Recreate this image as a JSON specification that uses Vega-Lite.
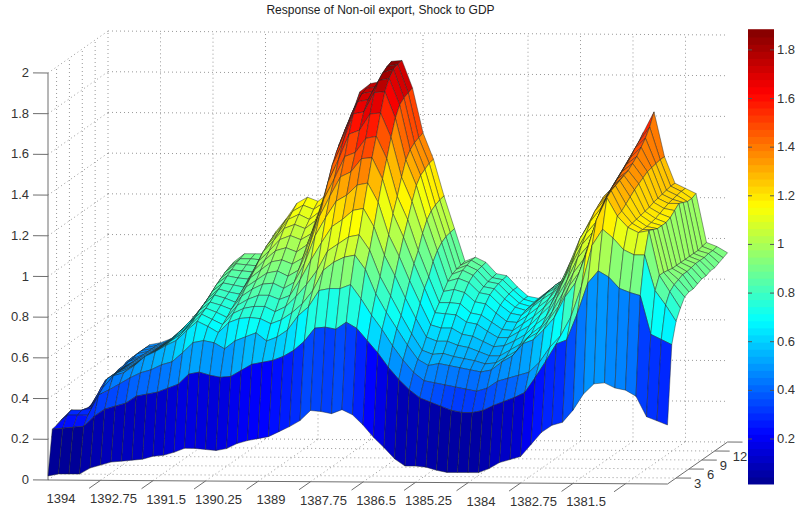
{"$schema":"https://vega.github.io/schema/vega-lite/v6.json","autosize":{"type":"none"},"padding":0,"width":795,"height":508,"background":"white",
"title":{"text":"Response of Non-oil export, Shock to GDP","anchor":"middle","dx":-17,"offset":-17,"fontSize":12,"fontWeight":"normal","font":"Liberation Sans","color":"#222222"},
"config":{"view":{"stroke":null}},
"datasets":{
"surface":[
{"t":0,"h":15,"z":0.28},{"t":0,"h":14,"z":0.28},{"t":0,"h":13,"z":0.25},{"t":0,"h":12,"z":0.22},{"t":0,"h":11,"z":0.2},{"t":0,"h":10,"z":0.2},{"t":0,"h":9,"z":0.21},{"t":0,"h":8,"z":0.22},{"t":0,"h":7,"z":0.23},{"t":0,"h":6,"z":0.25},{"t":0,"h":5,"z":0.25},{"t":0,"h":4,"z":0.25},{"t":0,"h":3,"z":0.24},{"t":0,"h":2,"z":0.235},{"t":0,"h":1,"z":0.02},
{"t":1,"h":15,"z":0.315},{"t":1,"h":14,"z":0.32},{"t":1,"h":13,"z":0.325},{"t":1,"h":12,"z":0.33},{"t":1,"h":11,"z":0.31},{"t":1,"h":10,"z":0.285},{"t":1,"h":9,"z":0.26},{"t":1,"h":8,"z":0.245},{"t":1,"h":7,"z":0.26},{"t":1,"h":6,"z":0.265},{"t":1,"h":5,"z":0.28},{"t":1,"h":4,"z":0.3},{"t":1,"h":3,"z":0.29},{"t":1,"h":2,"z":0.24},{"t":1,"h":1,"z":0.03},
{"t":2,"h":15,"z":0.36},{"t":2,"h":14,"z":0.35},{"t":2,"h":13,"z":0.35},{"t":2,"h":12,"z":0.34},{"t":2,"h":11,"z":0.34},{"t":2,"h":10,"z":0.34},{"t":2,"h":9,"z":0.33},{"t":2,"h":8,"z":0.31},{"t":2,"h":7,"z":0.28},{"t":2,"h":6,"z":0.27},{"t":2,"h":5,"z":0.28},{"t":2,"h":4,"z":0.3},{"t":2,"h":3,"z":0.29},{"t":2,"h":2,"z":0.245},{"t":2,"h":1,"z":0.03},
{"t":3,"h":15,"z":0.42},{"t":3,"h":14,"z":0.42},{"t":3,"h":13,"z":0.42},{"t":3,"h":12,"z":0.42},{"t":3,"h":11,"z":0.41},{"t":3,"h":10,"z":0.41},{"t":3,"h":9,"z":0.4},{"t":3,"h":8,"z":0.39},{"t":3,"h":7,"z":0.38},{"t":3,"h":6,"z":0.35},{"t":3,"h":5,"z":0.31},{"t":3,"h":4,"z":0.31},{"t":3,"h":3,"z":0.29},{"t":3,"h":2,"z":0.25},{"t":3,"h":1,"z":0.03},
{"t":4,"h":15,"z":0.46},{"t":4,"h":14,"z":0.46},{"t":4,"h":13,"z":0.46},{"t":4,"h":12,"z":0.46},{"t":4,"h":11,"z":0.45},{"t":4,"h":10,"z":0.45},{"t":4,"h":9,"z":0.44},{"t":4,"h":8,"z":0.44},{"t":4,"h":7,"z":0.44},{"t":4,"h":6,"z":0.44},{"t":4,"h":5,"z":0.44},{"t":4,"h":4,"z":0.41},{"t":4,"h":3,"z":0.39},{"t":4,"h":2,"z":0.3},{"t":4,"h":1,"z":0.06},
{"t":5,"h":15,"z":0.47},{"t":5,"h":14,"z":0.47},{"t":5,"h":13,"z":0.47},{"t":5,"h":12,"z":0.47},{"t":5,"h":11,"z":0.47},{"t":5,"h":10,"z":0.47},{"t":5,"h":9,"z":0.47},{"t":5,"h":8,"z":0.47},{"t":5,"h":7,"z":0.47},{"t":5,"h":6,"z":0.47},{"t":5,"h":5,"z":0.47},{"t":5,"h":4,"z":0.47},{"t":5,"h":3,"z":0.415},{"t":5,"h":2,"z":0.335},{"t":5,"h":1,"z":0.075},
{"t":6,"h":15,"z":0.49},{"t":6,"h":14,"z":0.49},{"t":6,"h":13,"z":0.49},{"t":6,"h":12,"z":0.49},{"t":6,"h":11,"z":0.49},{"t":6,"h":10,"z":0.49},{"t":6,"h":9,"z":0.49},{"t":6,"h":8,"z":0.49},{"t":6,"h":7,"z":0.49},{"t":6,"h":6,"z":0.49},{"t":6,"h":5,"z":0.49},{"t":6,"h":4,"z":0.485},{"t":6,"h":3,"z":0.445},{"t":6,"h":2,"z":0.35},{"t":6,"h":1,"z":0.09},
{"t":7,"h":15,"z":0.52},{"t":7,"h":14,"z":0.52},{"t":7,"h":13,"z":0.52},{"t":7,"h":12,"z":0.52},{"t":7,"h":11,"z":0.52},{"t":7,"h":10,"z":0.52},{"t":7,"h":9,"z":0.52},{"t":7,"h":8,"z":0.52},{"t":7,"h":7,"z":0.52},{"t":7,"h":6,"z":0.52},{"t":7,"h":5,"z":0.52},{"t":7,"h":4,"z":0.52},{"t":7,"h":3,"z":0.475},{"t":7,"h":2,"z":0.365},{"t":7,"h":1,"z":0.095},
{"t":8,"h":15,"z":0.565},{"t":8,"h":14,"z":0.56},{"t":8,"h":13,"z":0.56},{"t":8,"h":12,"z":0.55},{"t":8,"h":11,"z":0.55},{"t":8,"h":10,"z":0.55},{"t":8,"h":9,"z":0.55},{"t":8,"h":8,"z":0.55},{"t":8,"h":7,"z":0.55},{"t":8,"h":6,"z":0.55},{"t":8,"h":5,"z":0.55},{"t":8,"h":4,"z":0.565},{"t":8,"h":3,"z":0.5},{"t":8,"h":2,"z":0.4},{"t":8,"h":1,"z":0.1},
{"t":9,"h":15,"z":0.62},{"t":9,"h":14,"z":0.62},{"t":9,"h":13,"z":0.61},{"t":9,"h":12,"z":0.61},{"t":9,"h":11,"z":0.61},{"t":9,"h":10,"z":0.6},{"t":9,"h":9,"z":0.6},{"t":9,"h":8,"z":0.6},{"t":9,"h":7,"z":0.59},{"t":9,"h":6,"z":0.59},{"t":9,"h":5,"z":0.59},{"t":9,"h":4,"z":0.59},{"t":9,"h":3,"z":0.515},{"t":9,"h":2,"z":0.41},{"t":9,"h":1,"z":0.105},
{"t":10,"h":15,"z":0.68},{"t":10,"h":14,"z":0.675},{"t":10,"h":13,"z":0.67},{"t":10,"h":12,"z":0.67},{"t":10,"h":11,"z":0.66},{"t":10,"h":10,"z":0.655},{"t":10,"h":9,"z":0.65},{"t":10,"h":8,"z":0.645},{"t":10,"h":7,"z":0.64},{"t":10,"h":6,"z":0.63},{"t":10,"h":5,"z":0.625},{"t":10,"h":4,"z":0.62},{"t":10,"h":3,"z":0.54},{"t":10,"h":2,"z":0.42},{"t":10,"h":1,"z":0.12},
{"t":11,"h":15,"z":0.77},{"t":11,"h":14,"z":0.76},{"t":11,"h":13,"z":0.755},{"t":11,"h":12,"z":0.745},{"t":11,"h":11,"z":0.735},{"t":11,"h":10,"z":0.72},{"t":11,"h":9,"z":0.71},{"t":11,"h":8,"z":0.7},{"t":11,"h":7,"z":0.68},{"t":11,"h":6,"z":0.67},{"t":11,"h":5,"z":0.66},{"t":11,"h":4,"z":0.645},{"t":11,"h":3,"z":0.555},{"t":11,"h":2,"z":0.44},{"t":11,"h":1,"z":0.125},
{"t":12,"h":15,"z":0.87},{"t":12,"h":14,"z":0.86},{"t":12,"h":13,"z":0.85},{"t":12,"h":12,"z":0.835},{"t":12,"h":11,"z":0.82},{"t":12,"h":10,"z":0.8},{"t":12,"h":9,"z":0.78},{"t":12,"h":8,"z":0.765},{"t":12,"h":7,"z":0.75},{"t":12,"h":6,"z":0.73},{"t":12,"h":5,"z":0.71},{"t":12,"h":4,"z":0.695},{"t":12,"h":3,"z":0.6},{"t":12,"h":2,"z":0.46},{"t":12,"h":1,"z":0.14},
{"t":13,"h":15,"z":0.91},{"t":13,"h":14,"z":0.9},{"t":13,"h":13,"z":0.89},{"t":13,"h":12,"z":0.875},{"t":13,"h":11,"z":0.86},{"t":13,"h":10,"z":0.84},{"t":13,"h":9,"z":0.825},{"t":13,"h":8,"z":0.81},{"t":13,"h":7,"z":0.79},{"t":13,"h":6,"z":0.775},{"t":13,"h":5,"z":0.76},{"t":13,"h":4,"z":0.74},{"t":13,"h":3,"z":0.65},{"t":13,"h":2,"z":0.51},{"t":13,"h":1,"z":0.16},
{"t":14,"h":15,"z":0.91},{"t":14,"h":14,"z":0.9},{"t":14,"h":13,"z":0.885},{"t":14,"h":12,"z":0.87},{"t":14,"h":11,"z":0.85},{"t":14,"h":10,"z":0.83},{"t":14,"h":9,"z":0.81},{"t":14,"h":8,"z":0.795},{"t":14,"h":7,"z":0.775},{"t":14,"h":6,"z":0.755},{"t":14,"h":5,"z":0.735},{"t":14,"h":4,"z":0.715},{"t":14,"h":3,"z":0.66},{"t":14,"h":2,"z":0.52},{"t":14,"h":1,"z":0.16},
{"t":15,"h":15,"z":0.91},{"t":15,"h":14,"z":0.895},{"t":15,"h":13,"z":0.88},{"t":15,"h":12,"z":0.865},{"t":15,"h":11,"z":0.845},{"t":15,"h":10,"z":0.82},{"t":15,"h":9,"z":0.8},{"t":15,"h":8,"z":0.775},{"t":15,"h":7,"z":0.755},{"t":15,"h":6,"z":0.73},{"t":15,"h":5,"z":0.71},{"t":15,"h":4,"z":0.685},{"t":15,"h":3,"z":0.65},{"t":15,"h":2,"z":0.505},{"t":15,"h":1,"z":0.155},
{"t":16,"h":15,"z":1.02},{"t":16,"h":14,"z":1.0},{"t":16,"h":13,"z":0.985},{"t":16,"h":12,"z":0.965},{"t":16,"h":11,"z":0.935},{"t":16,"h":10,"z":0.905},{"t":16,"h":9,"z":0.88},{"t":16,"h":8,"z":0.85},{"t":16,"h":7,"z":0.82},{"t":16,"h":6,"z":0.79},{"t":16,"h":5,"z":0.765},{"t":16,"h":4,"z":0.735},{"t":16,"h":3,"z":0.62},{"t":16,"h":2,"z":0.495},{"t":16,"h":1,"z":0.15},
{"t":17,"h":15,"z":1.085},{"t":17,"h":14,"z":1.065},{"t":17,"h":13,"z":1.04},{"t":17,"h":12,"z":1.02},{"t":17,"h":11,"z":0.985},{"t":17,"h":10,"z":0.955},{"t":17,"h":9,"z":0.92},{"t":17,"h":8,"z":0.885},{"t":17,"h":7,"z":0.855},{"t":17,"h":6,"z":0.82},{"t":17,"h":5,"z":0.79},{"t":17,"h":4,"z":0.755},{"t":17,"h":3,"z":0.66},{"t":17,"h":2,"z":0.5},{"t":17,"h":1,"z":0.16},
{"t":18,"h":15,"z":1.16},{"t":18,"h":14,"z":1.135},{"t":18,"h":13,"z":1.11},{"t":18,"h":12,"z":1.08},{"t":18,"h":11,"z":1.04},{"t":18,"h":10,"z":1.0},{"t":18,"h":9,"z":0.96},{"t":18,"h":8,"z":0.92},{"t":18,"h":7,"z":0.88},{"t":18,"h":6,"z":0.84},{"t":18,"h":5,"z":0.8},{"t":18,"h":4,"z":0.76},{"t":18,"h":3,"z":0.68},{"t":18,"h":2,"z":0.53},{"t":18,"h":1,"z":0.185},
{"t":19,"h":15,"z":1.19},{"t":19,"h":14,"z":1.165},{"t":19,"h":13,"z":1.135},{"t":19,"h":12,"z":1.1},{"t":19,"h":11,"z":1.06},{"t":19,"h":10,"z":1.015},{"t":19,"h":9,"z":0.97},{"t":19,"h":8,"z":0.93},{"t":19,"h":7,"z":0.885},{"t":19,"h":6,"z":0.84},{"t":19,"h":5,"z":0.8},{"t":19,"h":4,"z":0.755},{"t":19,"h":3,"z":0.7},{"t":19,"h":2,"z":0.56},{"t":19,"h":1,"z":0.2},
{"t":20,"h":15,"z":1.17},{"t":20,"h":14,"z":1.145},{"t":20,"h":13,"z":1.11},{"t":20,"h":12,"z":1.08},{"t":20,"h":11,"z":1.04},{"t":20,"h":10,"z":0.995},{"t":20,"h":9,"z":0.95},{"t":20,"h":8,"z":0.905},{"t":20,"h":7,"z":0.86},{"t":20,"h":6,"z":0.82},{"t":20,"h":5,"z":0.775},{"t":20,"h":4,"z":0.73},{"t":20,"h":3,"z":0.66},{"t":20,"h":2,"z":0.57},{"t":20,"h":1,"z":0.21},
{"t":21,"h":15,"z":1.21},{"t":21,"h":14,"z":1.18},{"t":21,"h":13,"z":1.15},{"t":21,"h":12,"z":1.12},{"t":21,"h":11,"z":1.07},{"t":21,"h":10,"z":1.03},{"t":21,"h":9,"z":0.98},{"t":21,"h":8,"z":0.935},{"t":21,"h":7,"z":0.89},{"t":21,"h":6,"z":0.84},{"t":21,"h":5,"z":0.8},{"t":21,"h":4,"z":0.75},{"t":21,"h":3,"z":0.68},{"t":21,"h":2,"z":0.58},{"t":21,"h":1,"z":0.22},
{"t":22,"h":15,"z":1.45},{"t":22,"h":14,"z":1.36},{"t":22,"h":13,"z":1.3},{"t":22,"h":12,"z":1.26},{"t":22,"h":11,"z":1.2},{"t":22,"h":10,"z":1.16},{"t":22,"h":9,"z":1.11},{"t":22,"h":8,"z":1.05},{"t":22,"h":7,"z":0.985},{"t":22,"h":6,"z":0.92},{"t":22,"h":5,"z":0.85},{"t":22,"h":4,"z":0.785},{"t":22,"h":3,"z":0.715},{"t":22,"h":2,"z":0.6},{"t":22,"h":1,"z":0.245},
{"t":23,"h":15,"z":1.57},{"t":23,"h":14,"z":1.54},{"t":23,"h":13,"z":1.5},{"t":23,"h":12,"z":1.46},{"t":23,"h":11,"z":1.41},{"t":23,"h":10,"z":1.34},{"t":23,"h":9,"z":1.27},{"t":23,"h":8,"z":1.2},{"t":23,"h":7,"z":1.12},{"t":23,"h":6,"z":1.015},{"t":23,"h":5,"z":0.91},{"t":23,"h":4,"z":0.83},{"t":23,"h":3,"z":0.785},{"t":23,"h":2,"z":0.63},{"t":23,"h":1,"z":0.27},
{"t":24,"h":15,"z":1.71},{"t":24,"h":14,"z":1.66},{"t":24,"h":13,"z":1.63},{"t":24,"h":12,"z":1.58},{"t":24,"h":11,"z":1.52},{"t":24,"h":10,"z":1.45},{"t":24,"h":9,"z":1.37},{"t":24,"h":8,"z":1.3},{"t":24,"h":7,"z":1.21},{"t":24,"h":6,"z":1.1},{"t":24,"h":5,"z":0.98},{"t":24,"h":4,"z":0.895},{"t":24,"h":3,"z":0.83},{"t":24,"h":2,"z":0.675},{"t":24,"h":1,"z":0.3},
{"t":25,"h":15,"z":1.75},{"t":25,"h":14,"z":1.74},{"t":25,"h":13,"z":1.73},{"t":25,"h":12,"z":1.705},{"t":25,"h":11,"z":1.66},{"t":25,"h":10,"z":1.575},{"t":25,"h":9,"z":1.48},{"t":25,"h":8,"z":1.395},{"t":25,"h":7,"z":1.29},{"t":25,"h":6,"z":1.18},{"t":25,"h":5,"z":1.075},{"t":25,"h":4,"z":0.995},{"t":25,"h":3,"z":0.91},{"t":25,"h":2,"z":0.74},{"t":25,"h":1,"z":0.35},
{"t":26,"h":15,"z":1.76},{"t":26,"h":14,"z":1.75},{"t":26,"h":13,"z":1.74},{"t":26,"h":12,"z":1.715},{"t":26,"h":11,"z":1.67},{"t":26,"h":10,"z":1.595},{"t":26,"h":9,"z":1.5},{"t":26,"h":8,"z":1.42},{"t":26,"h":7,"z":1.32},{"t":26,"h":6,"z":1.215},{"t":26,"h":5,"z":1.11},{"t":26,"h":4,"z":1.035},{"t":26,"h":3,"z":0.92},{"t":26,"h":2,"z":0.745},{"t":26,"h":1,"z":0.345},
{"t":27,"h":15,"z":1.86},{"t":27,"h":14,"z":1.85},{"t":27,"h":13,"z":1.835},{"t":27,"h":12,"z":1.81},{"t":27,"h":11,"z":1.765},{"t":27,"h":10,"z":1.675},{"t":27,"h":9,"z":1.57},{"t":27,"h":8,"z":1.485},{"t":27,"h":7,"z":1.37},{"t":27,"h":6,"z":1.26},{"t":27,"h":5,"z":1.145},{"t":27,"h":4,"z":1.06},{"t":27,"h":3,"z":0.92},{"t":27,"h":2,"z":0.735},{"t":27,"h":1,"z":0.335},
{"t":28,"h":15,"z":1.865},{"t":28,"h":14,"z":1.86},{"t":28,"h":13,"z":1.85},{"t":28,"h":12,"z":1.82},{"t":28,"h":11,"z":1.77},{"t":28,"h":10,"z":1.68},{"t":28,"h":9,"z":1.58},{"t":28,"h":8,"z":1.49},{"t":28,"h":7,"z":1.38},{"t":28,"h":6,"z":1.27},{"t":28,"h":5,"z":1.155},{"t":28,"h":4,"z":1.07},{"t":28,"h":3,"z":0.94},{"t":28,"h":2,"z":0.77},{"t":28,"h":1,"z":0.355},
{"t":29,"h":15,"z":1.73},{"t":29,"h":14,"z":1.72},{"t":29,"h":13,"z":1.71},{"t":29,"h":12,"z":1.69},{"t":29,"h":11,"z":1.64},{"t":29,"h":10,"z":1.56},{"t":29,"h":9,"z":1.47},{"t":29,"h":8,"z":1.385},{"t":29,"h":7,"z":1.285},{"t":29,"h":6,"z":1.18},{"t":29,"h":5,"z":1.08},{"t":29,"h":4,"z":1.0},{"t":29,"h":3,"z":0.87},{"t":29,"h":2,"z":0.74},{"t":29,"h":1,"z":0.33},
{"t":30,"h":15,"z":1.51},{"t":30,"h":14,"z":1.5},{"t":30,"h":13,"z":1.49},{"t":30,"h":12,"z":1.47},{"t":30,"h":11,"z":1.435},{"t":30,"h":10,"z":1.365},{"t":30,"h":9,"z":1.285},{"t":30,"h":8,"z":1.215},{"t":30,"h":7,"z":1.125},{"t":30,"h":6,"z":1.04},{"t":30,"h":5,"z":0.95},{"t":30,"h":4,"z":0.88},{"t":30,"h":3,"z":0.79},{"t":30,"h":2,"z":0.68},{"t":30,"h":1,"z":0.28},
{"t":31,"h":15,"z":1.38},{"t":31,"h":14,"z":1.375},{"t":31,"h":13,"z":1.36},{"t":31,"h":12,"z":1.345},{"t":31,"h":11,"z":1.31},{"t":31,"h":10,"z":1.245},{"t":31,"h":9,"z":1.17},{"t":31,"h":8,"z":1.1},{"t":31,"h":7,"z":1.02},{"t":31,"h":6,"z":0.94},{"t":31,"h":5,"z":0.855},{"t":31,"h":4,"z":0.79},{"t":31,"h":3,"z":0.72},{"t":31,"h":2,"z":0.62},{"t":31,"h":1,"z":0.22},
{"t":32,"h":15,"z":1.2},{"t":32,"h":14,"z":1.195},{"t":32,"h":13,"z":1.185},{"t":32,"h":12,"z":1.17},{"t":32,"h":11,"z":1.14},{"t":32,"h":10,"z":1.09},{"t":32,"h":9,"z":1.02},{"t":32,"h":8,"z":0.97},{"t":32,"h":7,"z":0.9},{"t":32,"h":6,"z":0.83},{"t":32,"h":5,"z":0.76},{"t":32,"h":4,"z":0.71},{"t":32,"h":3,"z":0.64},{"t":32,"h":2,"z":0.55},{"t":32,"h":1,"z":0.17},
{"t":33,"h":15,"z":1.04},{"t":33,"h":14,"z":1.035},{"t":33,"h":13,"z":1.03},{"t":33,"h":12,"z":1.015},{"t":33,"h":11,"z":0.99},{"t":33,"h":10,"z":0.95},{"t":33,"h":9,"z":0.89},{"t":33,"h":8,"z":0.85},{"t":33,"h":7,"z":0.79},{"t":33,"h":6,"z":0.73},{"t":33,"h":5,"z":0.67},{"t":33,"h":4,"z":0.63},{"t":33,"h":3,"z":0.57},{"t":33,"h":2,"z":0.49},{"t":33,"h":1,"z":0.115},
{"t":34,"h":15,"z":0.88},{"t":34,"h":14,"z":0.875},{"t":34,"h":13,"z":0.87},{"t":34,"h":12,"z":0.86},{"t":34,"h":11,"z":0.84},{"t":34,"h":10,"z":0.805},{"t":34,"h":9,"z":0.765},{"t":34,"h":8,"z":0.73},{"t":34,"h":7,"z":0.685},{"t":34,"h":6,"z":0.64},{"t":34,"h":5,"z":0.59},{"t":34,"h":4,"z":0.56},{"t":34,"h":3,"z":0.51},{"t":34,"h":2,"z":0.44},{"t":34,"h":1,"z":0.08},
{"t":35,"h":15,"z":0.9},{"t":35,"h":14,"z":0.9},{"t":35,"h":13,"z":0.89},{"t":35,"h":12,"z":0.88},{"t":35,"h":11,"z":0.855},{"t":35,"h":10,"z":0.815},{"t":35,"h":9,"z":0.765},{"t":35,"h":8,"z":0.725},{"t":35,"h":7,"z":0.67},{"t":35,"h":6,"z":0.62},{"t":35,"h":5,"z":0.57},{"t":35,"h":4,"z":0.53},{"t":35,"h":3,"z":0.47},{"t":35,"h":2,"z":0.4},{"t":35,"h":1,"z":0.08},
{"t":36,"h":15,"z":0.875},{"t":36,"h":14,"z":0.87},{"t":36,"h":13,"z":0.865},{"t":36,"h":12,"z":0.855},{"t":36,"h":11,"z":0.835},{"t":36,"h":10,"z":0.8},{"t":36,"h":9,"z":0.76},{"t":36,"h":8,"z":0.72},{"t":36,"h":7,"z":0.67},{"t":36,"h":6,"z":0.62},{"t":36,"h":5,"z":0.575},{"t":36,"h":4,"z":0.54},{"t":36,"h":3,"z":0.46},{"t":36,"h":2,"z":0.38},{"t":36,"h":1,"z":0.075},
{"t":37,"h":15,"z":0.82},{"t":37,"h":14,"z":0.815},{"t":37,"h":13,"z":0.81},{"t":37,"h":12,"z":0.8},{"t":37,"h":11,"z":0.785},{"t":37,"h":10,"z":0.755},{"t":37,"h":9,"z":0.715},{"t":37,"h":8,"z":0.685},{"t":37,"h":7,"z":0.64},{"t":37,"h":6,"z":0.6},{"t":37,"h":5,"z":0.56},{"t":37,"h":4,"z":0.53},{"t":37,"h":3,"z":0.45},{"t":37,"h":2,"z":0.36},{"t":37,"h":1,"z":0.06},
{"t":38,"h":15,"z":0.81},{"t":38,"h":14,"z":0.805},{"t":38,"h":13,"z":0.8},{"t":38,"h":12,"z":0.79},{"t":38,"h":11,"z":0.775},{"t":38,"h":10,"z":0.745},{"t":38,"h":9,"z":0.705},{"t":38,"h":8,"z":0.675},{"t":38,"h":7,"z":0.63},{"t":38,"h":6,"z":0.59},{"t":38,"h":5,"z":0.55},{"t":38,"h":4,"z":0.52},{"t":38,"h":3,"z":0.44},{"t":38,"h":2,"z":0.34},{"t":38,"h":1,"z":0.05},
{"t":39,"h":15,"z":0.755},{"t":39,"h":14,"z":0.755},{"t":39,"h":13,"z":0.75},{"t":39,"h":12,"z":0.74},{"t":39,"h":11,"z":0.725},{"t":39,"h":10,"z":0.7},{"t":39,"h":9,"z":0.67},{"t":39,"h":8,"z":0.64},{"t":39,"h":7,"z":0.605},{"t":39,"h":6,"z":0.57},{"t":39,"h":5,"z":0.54},{"t":39,"h":4,"z":0.51},{"t":39,"h":3,"z":0.43},{"t":39,"h":2,"z":0.33},{"t":39,"h":1,"z":0.05},
{"t":40,"h":15,"z":0.71},{"t":40,"h":14,"z":0.71},{"t":40,"h":13,"z":0.705},{"t":40,"h":12,"z":0.7},{"t":40,"h":11,"z":0.685},{"t":40,"h":10,"z":0.66},{"t":40,"h":9,"z":0.635},{"t":40,"h":8,"z":0.61},{"t":40,"h":7,"z":0.58},{"t":40,"h":6,"z":0.55},{"t":40,"h":5,"z":0.525},{"t":40,"h":4,"z":0.5},{"t":40,"h":3,"z":0.42},{"t":40,"h":2,"z":0.33},{"t":40,"h":1,"z":0.05},
{"t":41,"h":15,"z":0.7},{"t":41,"h":14,"z":0.695},{"t":41,"h":13,"z":0.69},{"t":41,"h":12,"z":0.685},{"t":41,"h":11,"z":0.675},{"t":41,"h":10,"z":0.655},{"t":41,"h":9,"z":0.63},{"t":41,"h":8,"z":0.61},{"t":41,"h":7,"z":0.585},{"t":41,"h":6,"z":0.55},{"t":41,"h":5,"z":0.53},{"t":41,"h":4,"z":0.51},{"t":41,"h":3,"z":0.435},{"t":41,"h":2,"z":0.34},{"t":41,"h":1,"z":0.05},
{"t":42,"h":15,"z":0.74},{"t":42,"h":14,"z":0.735},{"t":42,"h":13,"z":0.73},{"t":42,"h":12,"z":0.725},{"t":42,"h":11,"z":0.715},{"t":42,"h":10,"z":0.69},{"t":42,"h":9,"z":0.665},{"t":42,"h":8,"z":0.64},{"t":42,"h":7,"z":0.61},{"t":42,"h":6,"z":0.58},{"t":42,"h":5,"z":0.56},{"t":42,"h":4,"z":0.55},{"t":42,"h":3,"z":0.47},{"t":42,"h":2,"z":0.365},{"t":42,"h":1,"z":0.07},
{"t":43,"h":15,"z":0.78},{"t":43,"h":14,"z":0.78},{"t":43,"h":13,"z":0.775},{"t":43,"h":12,"z":0.77},{"t":43,"h":11,"z":0.755},{"t":43,"h":10,"z":0.73},{"t":43,"h":9,"z":0.7},{"t":43,"h":8,"z":0.67},{"t":43,"h":7,"z":0.64},{"t":43,"h":6,"z":0.61},{"t":43,"h":5,"z":0.59},{"t":43,"h":4,"z":0.58},{"t":43,"h":3,"z":0.485},{"t":43,"h":2,"z":0.385},{"t":43,"h":1,"z":0.1},
{"t":44,"h":15,"z":0.81},{"t":44,"h":14,"z":0.81},{"t":44,"h":13,"z":0.805},{"t":44,"h":12,"z":0.8},{"t":44,"h":11,"z":0.79},{"t":44,"h":10,"z":0.77},{"t":44,"h":9,"z":0.745},{"t":44,"h":8,"z":0.72},{"t":44,"h":7,"z":0.69},{"t":44,"h":6,"z":0.66},{"t":44,"h":5,"z":0.65},{"t":44,"h":4,"z":0.64},{"t":44,"h":3,"z":0.5},{"t":44,"h":2,"z":0.405},{"t":44,"h":1,"z":0.115},
{"t":45,"h":15,"z":0.885},{"t":45,"h":14,"z":0.885},{"t":45,"h":13,"z":0.88},{"t":45,"h":12,"z":0.875},{"t":45,"h":11,"z":0.86},{"t":45,"h":10,"z":0.835},{"t":45,"h":9,"z":0.8},{"t":45,"h":8,"z":0.77},{"t":45,"h":7,"z":0.73},{"t":45,"h":6,"z":0.7},{"t":45,"h":5,"z":0.68},{"t":45,"h":4,"z":0.66},{"t":45,"h":3,"z":0.515},{"t":45,"h":2,"z":0.43},{"t":45,"h":1,"z":0.13},
{"t":46,"h":15,"z":1.0},{"t":46,"h":14,"z":1.0},{"t":46,"h":13,"z":0.99},{"t":46,"h":12,"z":0.985},{"t":46,"h":11,"z":0.97},{"t":46,"h":10,"z":0.945},{"t":46,"h":9,"z":0.9},{"t":46,"h":8,"z":0.865},{"t":46,"h":7,"z":0.82},{"t":46,"h":6,"z":0.77},{"t":46,"h":5,"z":0.74},{"t":46,"h":4,"z":0.71},{"t":46,"h":3,"z":0.565},{"t":46,"h":2,"z":0.505},{"t":46,"h":1,"z":0.19},
{"t":47,"h":15,"z":1.12},{"t":47,"h":14,"z":1.12},{"t":47,"h":13,"z":1.11},{"t":47,"h":12,"z":1.1},{"t":47,"h":11,"z":1.09},{"t":47,"h":10,"z":1.07},{"t":47,"h":9,"z":1.02},{"t":47,"h":8,"z":0.97},{"t":47,"h":7,"z":0.91},{"t":47,"h":6,"z":0.86},{"t":47,"h":5,"z":0.81},{"t":47,"h":4,"z":0.77},{"t":47,"h":3,"z":0.64},{"t":47,"h":2,"z":0.585},{"t":47,"h":1,"z":0.25},
{"t":48,"h":15,"z":1.24},{"t":48,"h":14,"z":1.235},{"t":48,"h":13,"z":1.23},{"t":48,"h":12,"z":1.21},{"t":48,"h":11,"z":1.19},{"t":48,"h":10,"z":1.155},{"t":48,"h":9,"z":1.11},{"t":48,"h":8,"z":1.07},{"t":48,"h":7,"z":1.02},{"t":48,"h":6,"z":0.96},{"t":48,"h":5,"z":0.91},{"t":48,"h":4,"z":0.87},{"t":48,"h":3,"z":0.695},{"t":48,"h":2,"z":0.67},{"t":48,"h":1,"z":0.285},
{"t":49,"h":15,"z":1.3},{"t":49,"h":14,"z":1.295},{"t":49,"h":13,"z":1.28},{"t":49,"h":12,"z":1.27},{"t":49,"h":11,"z":1.25},{"t":49,"h":10,"z":1.22},{"t":49,"h":9,"z":1.17},{"t":49,"h":8,"z":1.13},{"t":49,"h":7,"z":1.08},{"t":49,"h":6,"z":1.03},{"t":49,"h":5,"z":0.98},{"t":49,"h":4,"z":0.94},{"t":49,"h":3,"z":0.79},{"t":49,"h":2,"z":0.69},{"t":49,"h":1,"z":0.3},
{"t":50,"h":15,"z":1.42},{"t":50,"h":14,"z":1.4},{"t":50,"h":13,"z":1.38},{"t":50,"h":12,"z":1.36},{"t":50,"h":11,"z":1.34},{"t":50,"h":10,"z":1.32},{"t":50,"h":9,"z":1.295},{"t":50,"h":8,"z":1.26},{"t":50,"h":7,"z":1.21},{"t":50,"h":6,"z":1.165},{"t":50,"h":5,"z":1.12},{"t":50,"h":4,"z":1.08},{"t":50,"h":3,"z":0.94},{"t":50,"h":2,"z":0.82},{"t":50,"h":1,"z":0.36},
{"t":51,"h":15,"z":1.52},{"t":51,"h":14,"z":1.49},{"t":51,"h":13,"z":1.47},{"t":51,"h":12,"z":1.44},{"t":51,"h":11,"z":1.42},{"t":51,"h":10,"z":1.4},{"t":51,"h":9,"z":1.38},{"t":51,"h":8,"z":1.36},{"t":51,"h":7,"z":1.34},{"t":51,"h":6,"z":1.31},{"t":51,"h":5,"z":1.28},{"t":51,"h":4,"z":1.25},{"t":51,"h":3,"z":1.14},{"t":51,"h":2,"z":0.97},{"t":51,"h":1,"z":0.44},
{"t":52,"h":15,"z":1.62},{"t":52,"h":14,"z":1.56},{"t":52,"h":13,"z":1.52},{"t":52,"h":12,"z":1.49},{"t":52,"h":11,"z":1.46},{"t":52,"h":10,"z":1.44},{"t":52,"h":9,"z":1.42},{"t":52,"h":8,"z":1.41},{"t":52,"h":7,"z":1.4},{"t":52,"h":6,"z":1.39},{"t":52,"h":5,"z":1.38},{"t":52,"h":4,"z":1.36},{"t":52,"h":3,"z":1.22},{"t":52,"h":2,"z":1.03},{"t":52,"h":1,"z":0.49},
{"t":53,"h":15,"z":1.4},{"t":53,"h":14,"z":1.4},{"t":53,"h":13,"z":1.395},{"t":53,"h":12,"z":1.39},{"t":53,"h":11,"z":1.385},{"t":53,"h":10,"z":1.37},{"t":53,"h":9,"z":1.355},{"t":53,"h":8,"z":1.34},{"t":53,"h":7,"z":1.32},{"t":53,"h":6,"z":1.3},{"t":53,"h":5,"z":1.28},{"t":53,"h":4,"z":1.27},{"t":53,"h":3,"z":1.177},{"t":53,"h":2,"z":1.0},{"t":53,"h":1,"z":0.495},
{"t":54,"h":15,"z":1.27},{"t":54,"h":14,"z":1.27},{"t":54,"h":13,"z":1.265},{"t":54,"h":12,"z":1.26},{"t":54,"h":11,"z":1.255},{"t":54,"h":10,"z":1.25},{"t":54,"h":9,"z":1.24},{"t":54,"h":8,"z":1.235},{"t":54,"h":7,"z":1.23},{"t":54,"h":6,"z":1.225},{"t":54,"h":5,"z":1.22},{"t":54,"h":4,"z":1.215},{"t":54,"h":3,"z":1.12},{"t":54,"h":2,"z":0.945},{"t":54,"h":1,"z":0.47},
{"t":55,"h":15,"z":1.245},{"t":55,"h":14,"z":1.245},{"t":55,"h":13,"z":1.24},{"t":55,"h":12,"z":1.235},{"t":55,"h":11,"z":1.23},{"t":55,"h":10,"z":1.22},{"t":55,"h":9,"z":1.21},{"t":55,"h":8,"z":1.2},{"t":55,"h":7,"z":1.195},{"t":55,"h":6,"z":1.19},{"t":55,"h":5,"z":1.19},{"t":55,"h":4,"z":1.19},{"t":55,"h":3,"z":1.095},{"t":55,"h":2,"z":0.925},{"t":55,"h":1,"z":0.46},
{"t":56,"h":15,"z":1.22},{"t":56,"h":14,"z":1.21},{"t":56,"h":13,"z":1.21},{"t":56,"h":12,"z":1.22},{"t":56,"h":11,"z":1.23},{"t":56,"h":10,"z":1.21},{"t":56,"h":9,"z":1.19},{"t":56,"h":8,"z":1.18},{"t":56,"h":7,"z":1.18},{"t":56,"h":6,"z":1.18},{"t":56,"h":5,"z":1.19},{"t":56,"h":4,"z":1.2},{"t":56,"h":3,"z":1.095},{"t":56,"h":2,"z":0.91},{"t":56,"h":1,"z":0.43},
{"t":57,"h":15,"z":0.98},{"t":57,"h":14,"z":0.975},{"t":57,"h":13,"z":0.97},{"t":57,"h":12,"z":0.97},{"t":57,"h":11,"z":0.97},{"t":57,"h":10,"z":0.97},{"t":57,"h":9,"z":0.97},{"t":57,"h":8,"z":0.97},{"t":57,"h":7,"z":0.97},{"t":57,"h":6,"z":0.975},{"t":57,"h":5,"z":0.98},{"t":57,"h":4,"z":0.98},{"t":57,"h":3,"z":0.92},{"t":57,"h":2,"z":0.72},{"t":57,"h":1,"z":0.33},
{"t":58,"h":15,"z":0.96},{"t":58,"h":14,"z":0.955},{"t":58,"h":13,"z":0.955},{"t":58,"h":12,"z":0.95},{"t":58,"h":11,"z":0.95},{"t":58,"h":10,"z":0.95},{"t":58,"h":9,"z":0.945},{"t":58,"h":8,"z":0.94},{"t":58,"h":7,"z":0.94},{"t":58,"h":6,"z":0.93},{"t":58,"h":5,"z":0.92},{"t":58,"h":4,"z":0.9},{"t":58,"h":3,"z":0.85},{"t":58,"h":2,"z":0.695},{"t":58,"h":1,"z":0.31},
{"t":59,"h":15,"z":0.93},{"t":59,"h":14,"z":0.92},{"t":59,"h":13,"z":0.91},{"t":59,"h":12,"z":0.9},{"t":59,"h":11,"z":0.9},{"t":59,"h":10,"z":0.89},{"t":59,"h":9,"z":0.89},{"t":59,"h":8,"z":0.88},{"t":59,"h":7,"z":0.87},{"t":59,"h":6,"z":0.87},{"t":59,"h":5,"z":0.86},{"t":59,"h":4,"z":0.82},{"t":59,"h":3,"z":0.77},{"t":59,"h":2,"z":0.67},{"t":59,"h":1,"z":0.29}
],
"grid":[
{"t":0,"h":15,"z":0,"t2":0,"h2":15,"z2":2},{"t":5,"h":15,"z":0,"t2":5,"h2":15,"z2":2},{"t":10,"h":15,"z":0,"t2":10,"h2":15,"z2":2},{"t":15,"h":15,"z":0,"t2":15,"h2":15,"z2":2},{"t":20,"h":15,"z":0,"t2":20,"h2":15,"z2":2},{"t":25,"h":15,"z":0,"t2":25,"h2":15,"z2":2},{"t":30,"h":15,"z":0,"t2":30,"h2":15,"z2":2},{"t":35,"h":15,"z":0,"t2":35,"h2":15,"z2":2},{"t":40,"h":15,"z":0,"t2":40,"h2":15,"z2":2},{"t":45,"h":15,"z":0,"t2":45,"h2":15,"z2":2},{"t":50,"h":15,"z":0,"t2":50,"h2":15,"z2":2},{"t":55,"h":15,"z":0,"t2":55,"h2":15,"z2":2},
{"t":0,"h":15,"z":0,"t2":59,"h2":15,"z2":0},{"t":0,"h":15,"z":0.2,"t2":59,"h2":15,"z2":0.2},{"t":0,"h":15,"z":0.4,"t2":59,"h2":15,"z2":0.4},{"t":0,"h":15,"z":0.6,"t2":59,"h2":15,"z2":0.6},{"t":0,"h":15,"z":0.8,"t2":59,"h2":15,"z2":0.8},{"t":0,"h":15,"z":1,"t2":59,"h2":15,"z2":1},{"t":0,"h":15,"z":1.2,"t2":59,"h2":15,"z2":1.2},{"t":0,"h":15,"z":1.4,"t2":59,"h2":15,"z2":1.4},{"t":0,"h":15,"z":1.6,"t2":59,"h2":15,"z2":1.6},{"t":0,"h":15,"z":1.8,"t2":59,"h2":15,"z2":1.8},{"t":0,"h":15,"z":2,"t2":59,"h2":15,"z2":2},
{"t":0,"h":3,"z":0,"t2":0,"h2":3,"z2":2},{"t":0,"h":6,"z":0,"t2":0,"h2":6,"z2":2},{"t":0,"h":9,"z":0,"t2":0,"h2":9,"z2":2},{"t":0,"h":12,"z":0,"t2":0,"h2":12,"z2":2},
{"t":0,"h":1,"z":0.2,"t2":0,"h2":15,"z2":0.2},{"t":0,"h":1,"z":0.4,"t2":0,"h2":15,"z2":0.4},{"t":0,"h":1,"z":0.6,"t2":0,"h2":15,"z2":0.6},{"t":0,"h":1,"z":0.8,"t2":0,"h2":15,"z2":0.8},{"t":0,"h":1,"z":1,"t2":0,"h2":15,"z2":1},{"t":0,"h":1,"z":1.2,"t2":0,"h2":15,"z2":1.2},{"t":0,"h":1,"z":1.4,"t2":0,"h2":15,"z2":1.4},{"t":0,"h":1,"z":1.6,"t2":0,"h2":15,"z2":1.6},{"t":0,"h":1,"z":1.8,"t2":0,"h2":15,"z2":1.8},{"t":0,"h":1,"z":2,"t2":0,"h2":15,"z2":2},{"t":0,"h":1,"z":0,"t2":0,"h2":15,"z2":0},
{"t":0,"h":3,"z":0,"t2":59,"h2":3,"z2":0},{"t":0,"h":6,"z":0,"t2":59,"h2":6,"z2":0},{"t":0,"h":9,"z":0,"t2":59,"h2":9,"z2":0},{"t":0,"h":12,"z":0,"t2":59,"h2":12,"z2":0},
{"t":5,"h":1,"z":0,"t2":5,"h2":15,"z2":0},{"t":10,"h":1,"z":0,"t2":10,"h2":15,"z2":0},{"t":15,"h":1,"z":0,"t2":15,"h2":15,"z2":0},{"t":20,"h":1,"z":0,"t2":20,"h2":15,"z2":0},{"t":25,"h":1,"z":0,"t2":25,"h2":15,"z2":0},{"t":30,"h":1,"z":0,"t2":30,"h2":15,"z2":0},{"t":35,"h":1,"z":0,"t2":35,"h2":15,"z2":0},{"t":40,"h":1,"z":0,"t2":40,"h2":15,"z2":0},{"t":45,"h":1,"z":0,"t2":45,"h2":15,"z2":0},{"t":50,"h":1,"z":0,"t2":50,"h2":15,"z2":0},{"t":55,"h":1,"z":0,"t2":55,"h2":15,"z2":0}
],
"axes":[
{"t":0,"h":1,"z":0,"t2":0,"h2":1,"z2":2},{"t":0,"h":1,"z":0,"t2":59,"h2":1,"z2":0},{"t":59,"h":1,"z":0,"t2":59,"h2":15,"z2":0},
{"t":0,"h":1,"z":0,"t2":-1.43,"h2":1,"z2":0},{"t":0,"h":1,"z":0.2,"t2":-1.43,"h2":1,"z2":0.2},{"t":0,"h":1,"z":0.4,"t2":-1.43,"h2":1,"z2":0.4},{"t":0,"h":1,"z":0.6,"t2":-1.43,"h2":1,"z2":0.6},{"t":0,"h":1,"z":0.8,"t2":-1.43,"h2":1,"z2":0.8},{"t":0,"h":1,"z":1,"t2":-1.43,"h2":1,"z2":1},{"t":0,"h":1,"z":1.2,"t2":-1.43,"h2":1,"z2":1.2},{"t":0,"h":1,"z":1.4,"t2":-1.43,"h2":1,"z2":1.4},{"t":0,"h":1,"z":1.6,"t2":-1.43,"h2":1,"z2":1.6},{"t":0,"h":1,"z":1.8,"t2":-1.43,"h2":1,"z2":1.8},{"t":0,"h":1,"z":2,"t2":-1.43,"h2":1,"z2":2},
{"t":5,"h":1,"z":0,"t2":5,"h2":-1.67,"z2":0},{"t":10,"h":1,"z":0,"t2":10,"h2":-1.67,"z2":0},{"t":15,"h":1,"z":0,"t2":15,"h2":-1.67,"z2":0},{"t":20,"h":1,"z":0,"t2":20,"h2":-1.67,"z2":0},{"t":25,"h":1,"z":0,"t2":25,"h2":-1.67,"z2":0},{"t":30,"h":1,"z":0,"t2":30,"h2":-1.67,"z2":0},{"t":35,"h":1,"z":0,"t2":35,"h2":-1.67,"z2":0},{"t":40,"h":1,"z":0,"t2":40,"h2":-1.67,"z2":0},{"t":45,"h":1,"z":0,"t2":45,"h2":-1.67,"z2":0},{"t":50,"h":1,"z":0,"t2":50,"h2":-1.67,"z2":0},{"t":55,"h":1,"z":0,"t2":55,"h2":-1.67,"z2":0},
{"t":59,"h":3,"z":0,"t2":60.43,"h2":3,"z2":0},{"t":59,"h":6,"z":0,"t2":60.43,"h2":6,"z2":0},{"t":59,"h":9,"z":0,"t2":60.43,"h2":9,"z2":0},{"t":59,"h":12,"z":0,"t2":60.43,"h2":12,"z2":0},{"t":59,"h":15,"z":0,"t2":60.43,"h2":15,"z2":0}
],
"colorbar":[{"v":0.03},{"v":0.059},{"v":0.088},{"v":0.118},{"v":0.147},{"v":0.176},{"v":0.205},{"v":0.234},{"v":0.263},{"v":0.293},{"v":0.322},{"v":0.351},{"v":0.38},{"v":0.409},{"v":0.438},{"v":0.468},{"v":0.497},{"v":0.526},{"v":0.555},{"v":0.584},{"v":0.613},{"v":0.643},{"v":0.672},{"v":0.701},{"v":0.73},{"v":0.759},{"v":0.788},{"v":0.818},{"v":0.847},{"v":0.876},{"v":0.905},{"v":0.934},{"v":0.963},{"v":0.993},{"v":1.022},{"v":1.051},{"v":1.08},{"v":1.109},{"v":1.138},{"v":1.168},{"v":1.197},{"v":1.226},{"v":1.255},{"v":1.284},{"v":1.313},{"v":1.343},{"v":1.372},{"v":1.401},{"v":1.43},{"v":1.459},{"v":1.488},{"v":1.518},{"v":1.547},{"v":1.576},{"v":1.605},{"v":1.634},{"v":1.663},{"v":1.693},{"v":1.722},{"v":1.751},{"v":1.78},{"v":1.809},{"v":1.838},{"v":1.868}],
"cbticks":[{"v":0.2,"label":"0.2"},{"v":0.4,"label":"0.4"},{"v":0.6,"label":"0.6"},{"v":0.8,"label":"0.8"},{"v":1,"label":"1"},{"v":1.2,"label":"1.2"},{"v":1.4,"label":"1.4"},{"v":1.6,"label":"1.6"},{"v":1.8,"label":"1.8"}]
},
"encoding":{"x":{"field":"px","type":"quantitative","scale":{"domain":[0,795],"nice":false,"zero":false},"axis":null},"y":{"field":"py","type":"quantitative","scale":{"domain":[508,0],"nice":false,"zero":false},"axis":null}},
"layer":[
{"data":{"name":"grid"},"transform":[{"calculate":"48+10.5*datum.t+(datum.h-1)*4.286","as":"px"},{"calculate":"480+0.068*datum.t-3*(datum.h-1)-203.5*datum.z","as":"py"},{"calculate":"48+10.5*datum.t2+(datum.h2-1)*4.286","as":"px2"},{"calculate":"480+0.068*datum.t2-3*(datum.h2-1)-203.5*datum.z2","as":"py2"}],"mark":{"type":"rule","stroke":"#808080","strokeWidth":1,"strokeDash":[1,3],"strokeOpacity":0.8},"encoding":{"x2":{"field":"px2"},"y2":{"field":"py2"}}},
{"data":{"name":"axes"},"transform":[{"calculate":"48+10.5*datum.t+(datum.h-1)*4.286","as":"px"},{"calculate":"480+0.068*datum.t-3*(datum.h-1)-203.5*datum.z","as":"py"},{"calculate":"48+10.5*datum.t2+(datum.h2-1)*4.286","as":"px2"},{"calculate":"480+0.068*datum.t2-3*(datum.h2-1)-203.5*datum.z2","as":"py2"}],"mark":{"type":"rule","stroke":"#6e6e6e","strokeWidth":1},"encoding":{"x2":{"field":"px2"},"y2":{"field":"py2"}}},
{"data":{"name":"surface"},"transform":[{"calculate":"[0,1,2,3,4]","as":"corner"},{"flatten":["corner"]},{"calculate":"datum.t-((datum.corner==1||datum.corner==2)?1:0)","as":"ct"},{"calculate":"datum.h-((datum.corner==2||datum.corner==3)?1:0)","as":"ch"},{"filter":"datum.ct>=0&&datum.ct<=58&&datum.ch>=1&&datum.ch<=14"},{"calculate":"datum.ct*100+datum.ch","as":"cell"},{"calculate":"datum.corner==1?datum.z:null","as":"cz"},{"joinaggregate":[{"op":"max","field":"cz","as":"cv"}],"groupby":["cell"]},{"calculate":"48+10.5*datum.t+(datum.h-1)*4.286","as":"px"},{"calculate":"480+0.068*datum.t-3*(datum.h-1)-203.5*datum.z","as":"py"}],
"mark":{"type":"line","stroke":"#1c2424","strokeWidth":0.6,"strokeOpacity":0.75,"strokeJoin":"round"},
"encoding":{"detail":{"field":"cell"},"order":{"field":"corner"},"fill":{"field":"cv","type":"quantitative","legend":null,"scale":{"domain":[0.015,0.219,0.689,1.157,1.624,1.886],"range":["#00008f","#0000ff","#00ffff","#ffff00","#ff0000","#800000"],"clamp":true,"interpolate":"rgb"}}}},
{"data":{"values":[{"label":"1394","t":0,"h":1,"z":0},{"label":"1392.75","t":5,"h":1,"z":0},{"label":"1391.5","t":10,"h":1,"z":0},{"label":"1390.25","t":15,"h":1,"z":0},{"label":"1389","t":20,"h":1,"z":0},{"label":"1387.75","t":25,"h":1,"z":0},{"label":"1386.5","t":30,"h":1,"z":0},{"label":"1385.25","t":35,"h":1,"z":0},{"label":"1384","t":40,"h":1,"z":0},{"label":"1382.75","t":45,"h":1,"z":0},{"label":"1381.5","t":50,"h":1,"z":0}]},"transform":[{"calculate":"48+10.5*datum.t+(datum.h-1)*4.286","as":"px"},{"calculate":"480+0.068*datum.t-3*(datum.h-1)-203.5*datum.z","as":"py"}],"mark":{"type":"text","font":"Liberation Sans","fontSize":13,"fill":"#333333","align":"center","baseline":"middle","dx":13,"dy":19},"encoding":{"text":{"field":"label"}}},
{"data":{"values":[{"label":"0","z":0},{"label":"0.2","z":0.2},{"label":"0.4","z":0.4},{"label":"0.6","z":0.6},{"label":"0.8","z":0.8},{"label":"1","z":1},{"label":"1.2","z":1.2},{"label":"1.4","z":1.4},{"label":"1.6","z":1.6},{"label":"1.8","z":1.8},{"label":"2","z":2}]},"transform":[{"calculate":"48","as":"px"},{"calculate":"480-203.5*datum.z","as":"py"}],"mark":{"type":"text","font":"Liberation Sans","fontSize":13,"fill":"#333333","align":"right","baseline":"middle","dx":-19},"encoding":{"text":{"field":"label"}}},
{"data":{"values":[{"label":"3","h":3},{"label":"6","h":6},{"label":"9","h":9},{"label":"12","h":12}]},"transform":[{"calculate":"667.5+(datum.h-1)*4.286","as":"px"},{"calculate":"484-3*(datum.h-1)","as":"py"}],"mark":{"type":"text","font":"Liberation Sans","fontSize":13,"fill":"#333333","align":"left","baseline":"middle","dx":18,"dy":6},"encoding":{"text":{"field":"label"}}},
{"data":{"name":"colorbar"},"transform":[{"calculate":"748","as":"px"},{"calculate":"774","as":"px2"},{"calculate":"484-(datum.v-0.015-0.017)*243.2","as":"py"},{"calculate":"484-(datum.v-0.015+0.017)*243.2","as":"py2"}],"mark":{"type":"rect"},"encoding":{"x2":{"field":"px2"},"y2":{"field":"py2"},"fill":{"field":"v","type":"quantitative","legend":null,"scale":{"domain":[0.015,0.219,0.689,1.157,1.624,1.886],"range":["#00008f","#0000ff","#00ffff","#ffff00","#ff0000","#800000"],"clamp":true,"interpolate":"rgb"}}}},
{"data":{"name":"cbticks"},"transform":[{"calculate":"748","as":"px"},{"calculate":"752","as":"px2"},{"calculate":"484-(datum.v-0.015)*243.2","as":"py"}],"mark":{"type":"rule","stroke":"#555555","strokeWidth":1},"encoding":{"x2":{"field":"px2"}}},
{"data":{"name":"cbticks"},"transform":[{"calculate":"770","as":"px"},{"calculate":"774","as":"px2"},{"calculate":"484-(datum.v-0.015)*243.2","as":"py"}],"mark":{"type":"rule","stroke":"#555555","strokeWidth":1},"encoding":{"x2":{"field":"px2"}}},
{"data":{"name":"cbticks"},"transform":[{"calculate":"777","as":"px"},{"calculate":"484-(datum.v-0.015)*243.2","as":"py"}],"mark":{"type":"text","font":"Liberation Sans","fontSize":13,"fill":"#333333","align":"left","baseline":"middle"},"encoding":{"text":{"field":"label"}}}
]}
